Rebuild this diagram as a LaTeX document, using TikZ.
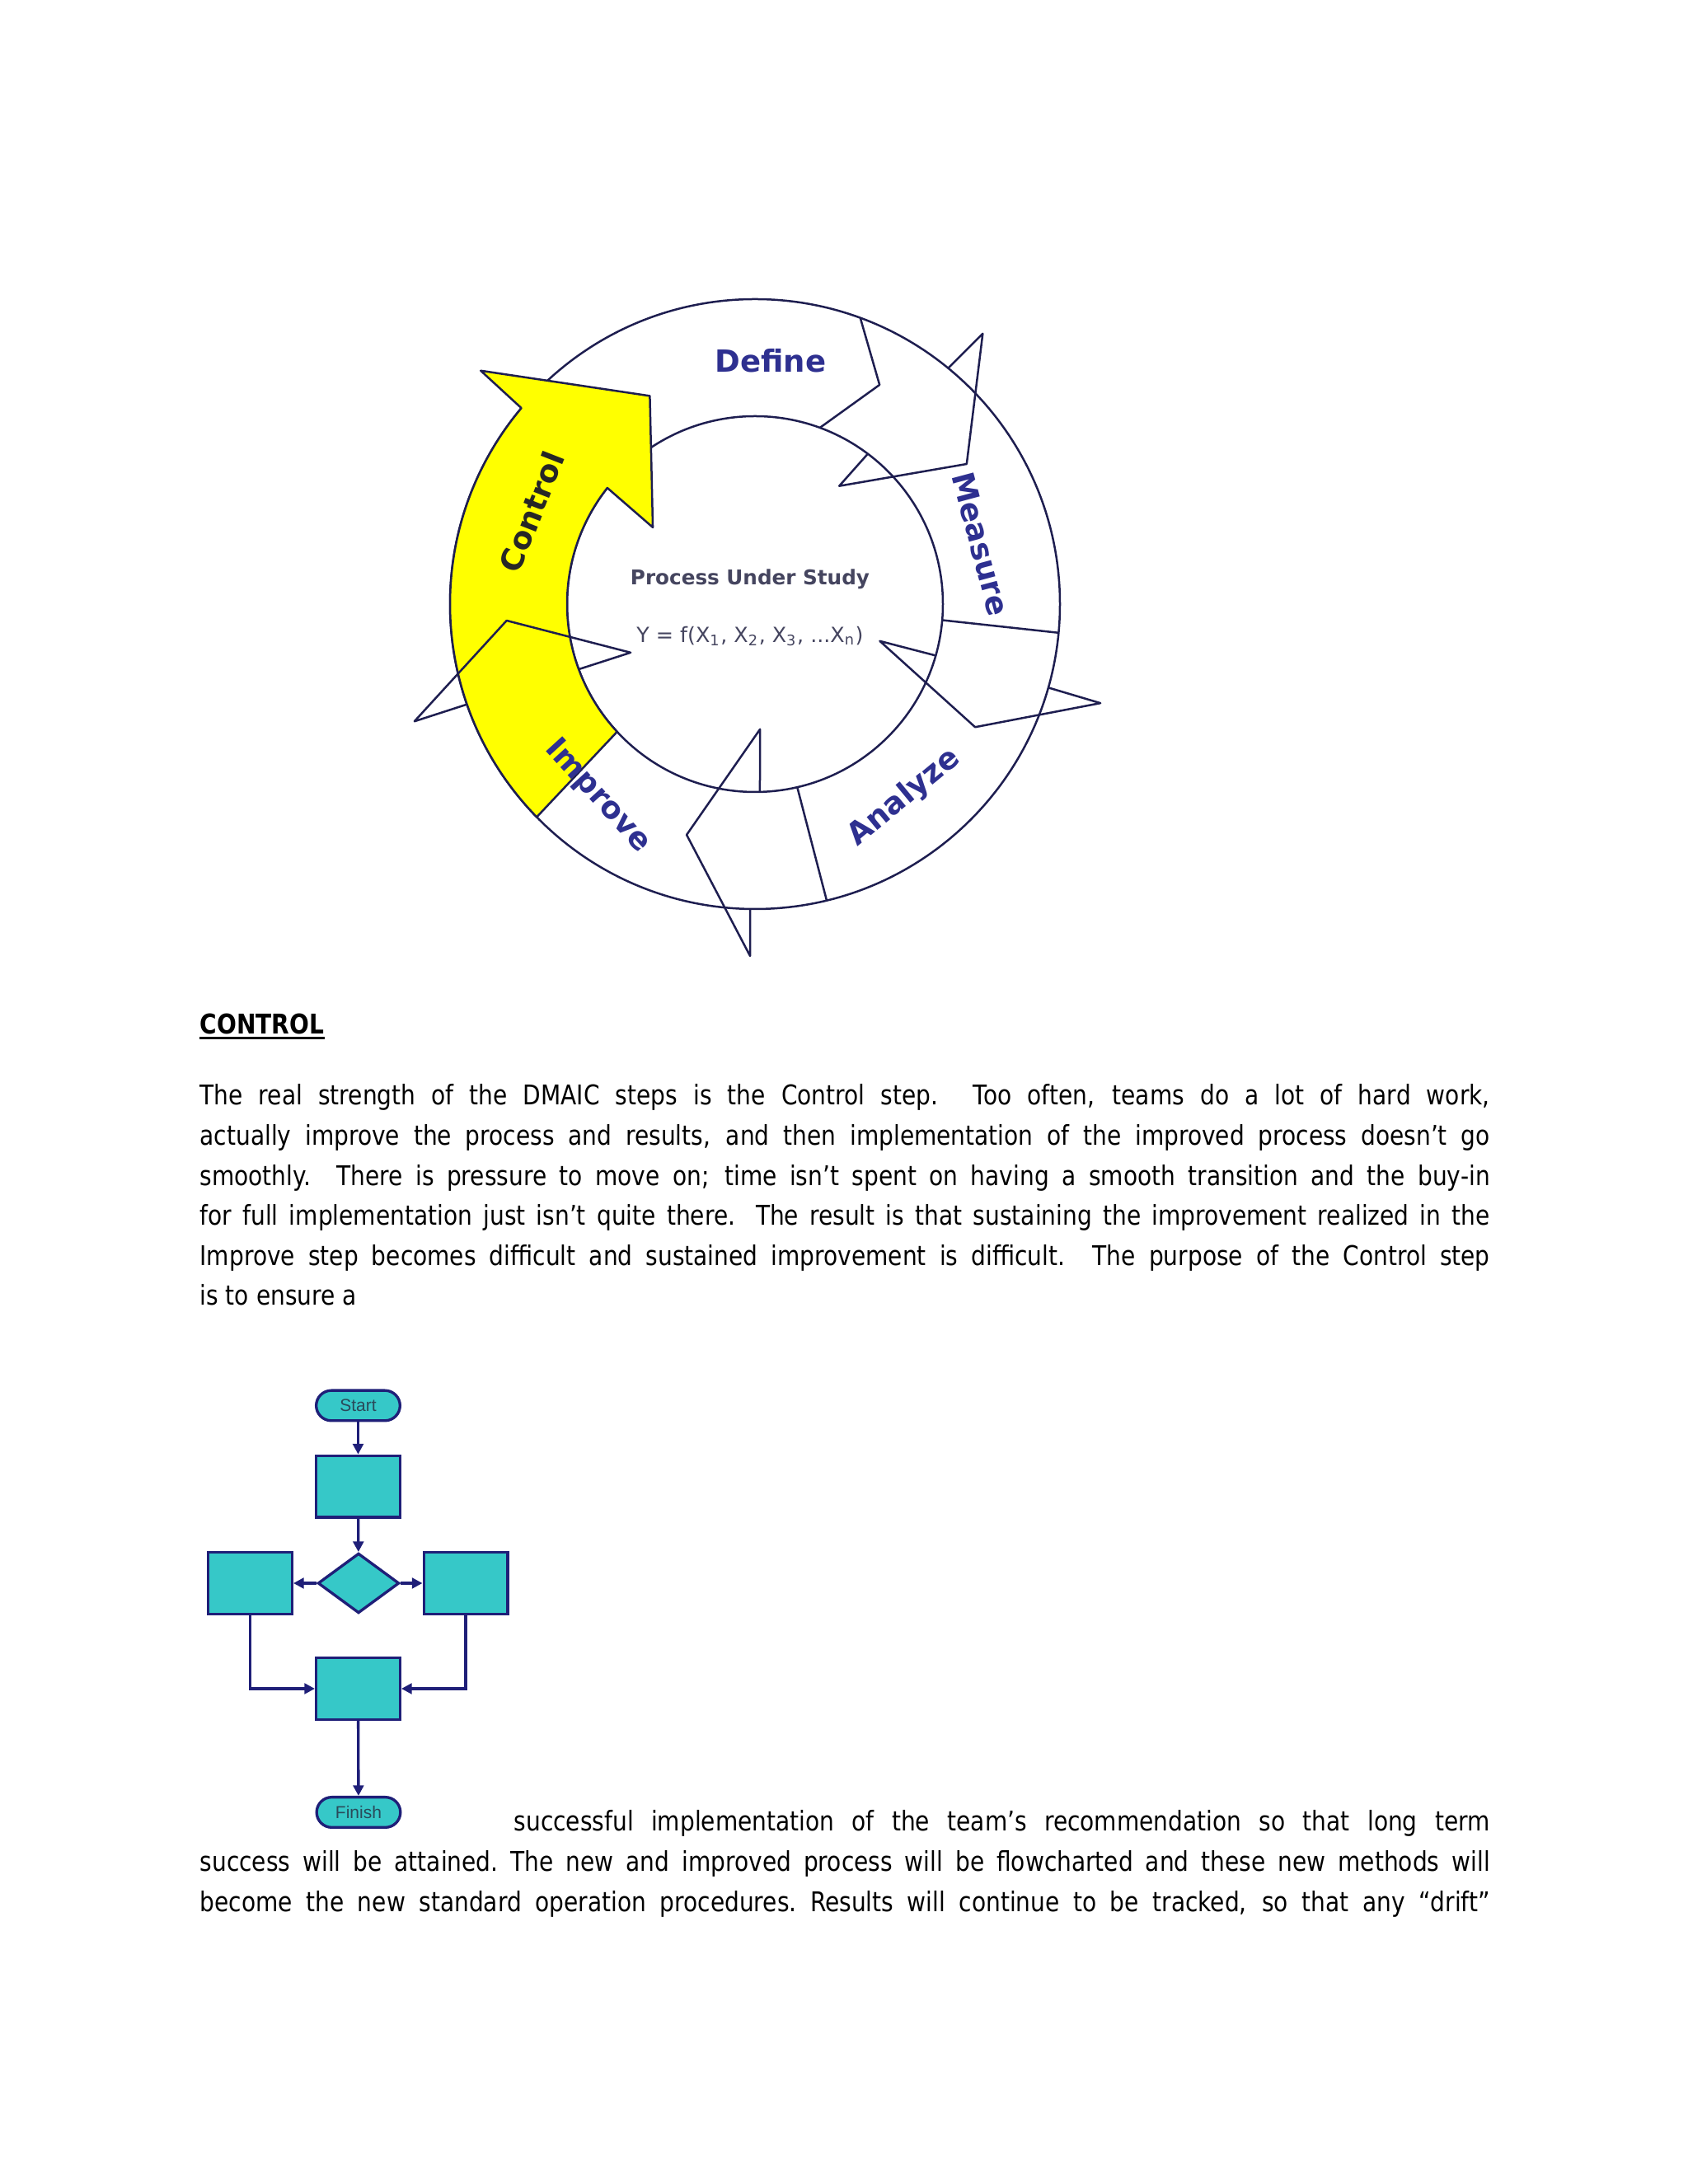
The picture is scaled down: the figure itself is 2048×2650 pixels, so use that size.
\documentclass[tikz,border=0pt]{standalone}
\usepackage{fontspec}
\setmainfont{DejaVu Sans}[FakeStretch=0.85]
\newfontfamily\ringfont{DejaVu Sans}
\newfontfamily\flowfont{Liberation Sans}
\usetikzlibrary{arrows.meta,shapes.geometric}
\definecolor{ring}{HTML}{1E1E50}
\definecolor{steptext}{HTML}{2E3090}
\definecolor{midtext}{HTML}{45455F}
\definecolor{hilite}{HTML}{FFFF00}
\definecolor{flowfill}{HTML}{36C8C8}
\definecolor{flowline}{HTML}{1F1F78}
\definecolor{flowtext}{HTML}{2A4A5A}
\tikzset{
  ringedge/.style={draw=ring,line width=.75pt,line join=round},
  steplabel/.style={font=\ringfont\bfseries\fontsize{11.1}{13}\selectfont,text=steptext,inner sep=0},
  flowbox/.style={draw=flowline,fill=flowfill,line width=1pt,minimum width=30.5pt,minimum height=22.4pt,inner sep=0},
  flowend/.style={flowbox,rounded corners=5.5pt,minimum height=11pt,font=\flowfont\fontsize{6.3}{7}\selectfont,text=flowtext},
  flowarrow/.style={draw=flowline,line width=1pt,-{Triangle[length=3.8pt,width=3.8pt]}},
  bodytext/.style={font=\fontsize{9.9}{14.58}\selectfont,text width=469.5pt,align=justify,inner sep=0,anchor=base west}
}
\begin{document}
\begin{tikzpicture}[x=.3pt,y=.3pt]
\useasboundingbox (0,0) rectangle (2048,2650);
\begin{scope}[shift={(916,1917)}]
\draw[ringedge] (0,0) circle[radius=370];
\draw[ringedge] (0,0) circle[radius=228];
\draw[ringedge,fill=hilite] (224.3:370) arc[start angle=224.3,end angle=140,radius=370] -- (139.6:437) -- (116.8:283) -- (143.1:155) -- (141.8:228) arc[start angle=141.8,end angle=222.8,radius=228] -- cycle;
\draw[ringedge] (53.1:228) -- (54.5:176) -- (33.5:308) -- (49.9:429) -- (50.7:370);
\draw[ringedge] (69.8:370) -- (60.4:306) -- (69.8:228);
\draw[ringedge] (-15.9:228) -- (-16.5:158) -- (-29.2:306) -- (-16:436) -- (-15.9:370);
\draw[ringedge] (-4.9:228) -- (-5.4:370);
\draw[ringedge] (271.5:228) -- (272.3:152) -- (253.5:292) -- (269.2:427) -- (269.1:370);
\draw[ringedge] (283:228) -- (283.6:370);
\draw[ringedge] (200.3:228) -- (201.3:162) -- (183.8:302) -- (199:437) -- (199.2:370);
\end{scope}
\node[steplabel] (define) at (935,2212) {Define};
\node[steplabel,rotate=-75] (measure) at (1190,1990) {Measure};
\node[steplabel,rotate=39.5] (analyze) at (1097,1682) {Analyze};
\node[steplabel,rotate=-47.6] (improve) at (725,1684) {Improve};
\node[steplabel,rotate=68.6,text=black!85] (control) at (645,2029) {Control};
\node[font=\ringfont\bfseries\fontsize{7.4}{9}\selectfont,text=midtext,inner sep=0] (study) at (910,1947) {Process Under Study};
\node[font=\ringfont\fontsize{7.6}{9}\selectfont,text=midtext,inner sep=0] (yfx) at (910,1878) {Y = f(X\textsubscript{1}, X\textsubscript{2}, X\textsubscript{3}, ...X\textsubscript{n})};
\node[font=\bfseries\fontsize{9.9}{12}\selectfont,inner sep=0,anchor=base west] (head) at (242,1395) {CONTROL};
\draw[line width=.9pt] ([yshift=-1.5pt]head.base west) -- ([yshift=-1.5pt]head.base east);
\node[bodytext] (para1) at (242,1309) {The real strength of the DMAIC steps is the Control step.  Too often, teams do a lot of hard work,\linebreak
actually improve the process and results, and then implementation of the improved process doesn’t go\linebreak
smoothly.  There is pressure to move on; time isn’t spent on having a smooth transition and the buy-in\linebreak
for full implementation just isn’t quite there.  The result is that sustaining the improvement realized in the\linebreak
Improve step becomes difficult and sustained improvement is difficult.  The purpose of the Control step\linebreak
is to ensure a};
\node[bodytext] (para2) at (242,428) {\parfillskip=0pt\hspace*{114.3pt}successful implementation of the team’s recommendation so that long term\linebreak
success will be attained.\ The new and improved process will be flowcharted and these new methods will\linebreak
become the new standard operation procedures.\ Results will continue to be tracked, so that any “drift”\par};
\node[flowend] (start) at (434.5,944.5) {Start};
\node[flowbox] (box1) at (434.5,846.4) {};
\node[flowbox,diamond,minimum width=29.6pt,minimum height=21.8pt] (dec) at (435,729) {};
\node[flowbox] (lbox) at (303.5,729) {};
\node[flowbox] (rbox) at (565,729) {};
\node[flowbox] (bbox) at (434.5,601) {};
\node[flowend] (finish) at (435,451) {Finish};
\draw[flowarrow] (start) -- (box1);
\draw[flowarrow] (box1) -- (dec);
\draw[flowarrow] (dec) -- (lbox);
\draw[flowarrow] (dec) -- (rbox);
\draw[flowarrow] (lbox) |- (bbox);
\draw[flowarrow] (rbox) |- (bbox);
\draw[flowarrow] (bbox) -- (finish);
\end{tikzpicture}
\end{document}
